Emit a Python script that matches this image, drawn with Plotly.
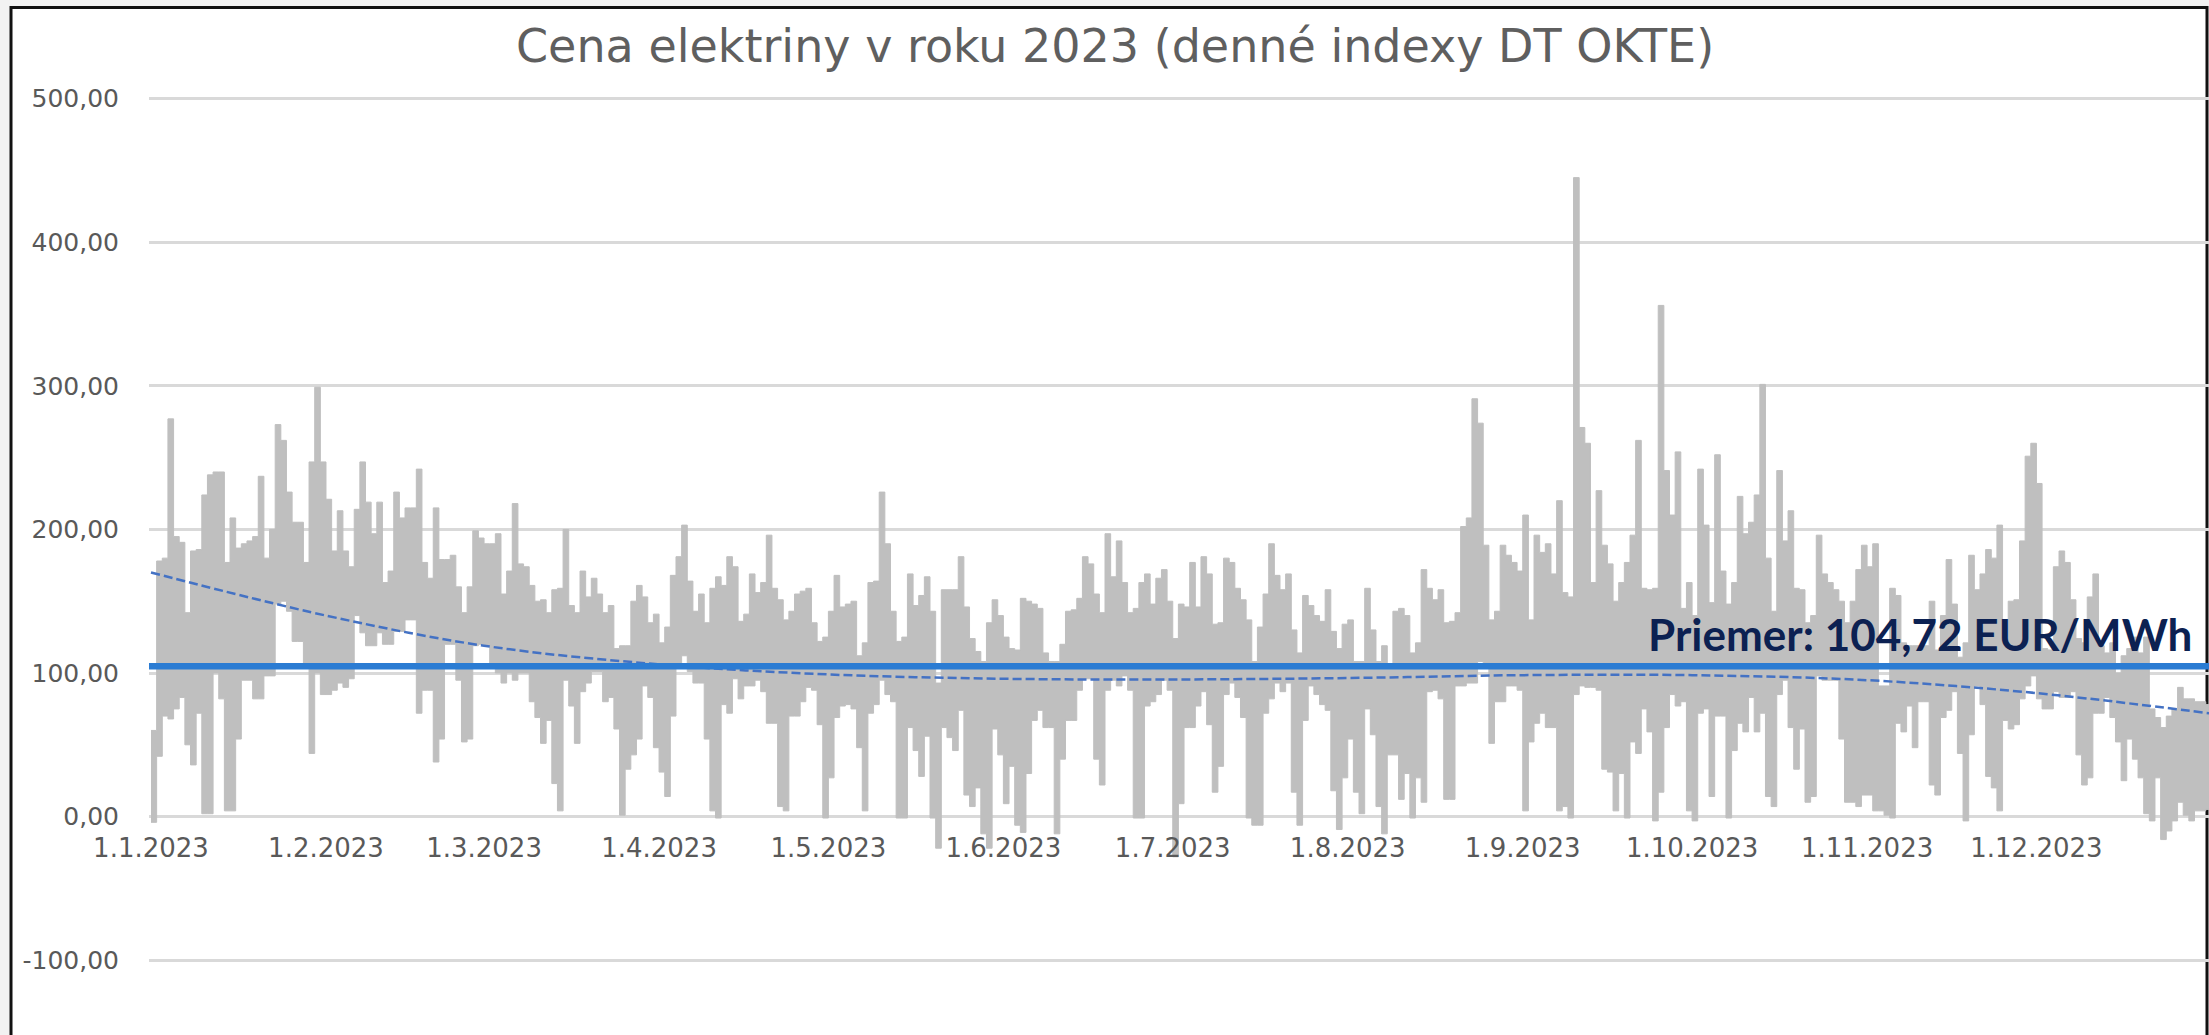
import pandas as pd
import plotly.graph_objects as go

title_text = "Cena elektriny v roku 2023 (denné indexy DT OKTE)"
mean_label = "Priemer: 104,72 EUR/MWh"
mean_price = 104.72

# Daily highs / lows (EUR/MWh), month by month
jan_max = [60, 178, 180, 277, 195, 191, 142, 185, 186, 224, 238, 240, 240, 177, 208, 187,
           190, 192, 195, 237, 180, 200, 273, 262, 226, 205, 205, 177, 247, 299, 247]
jan_min = [-4, 42, 70, 68, 75, 83, 50, 36, 72, 2, 2, 100, 82, 4, 4, 54,
           95, 95, 82, 82, 98, 98, 148, 150, 143, 122, 122, 106, 44, 100, 85]
feb_max = [221, 185, 213, 185, 174, 214, 247, 219, 197, 219, 163, 171, 226, 208, 215, 215,
           242, 177, 166, 215, 179, 179, 182, 160, 142, 160, 199, 194]
feb_min = [85, 88, 93, 90, 96, 140, 128, 119, 119, 128, 120, 120, 129, 129, 137, 137,
           72, 88, 88, 38, 54, 120, 120, 95, 52, 54, 119, 120]
mar_max = [190, 190, 197, 155, 171, 218, 176, 174, 161, 150, 151, 142, 158, 159, 200, 147,
           142, 171, 153, 166, 155, 142, 147, 117, 119, 119, 150, 161, 153, 135, 141]
mar_min = [119, 104, 100, 93, 100, 95, 100, 100, 80, 69, 51, 67, 23, 4, 95, 77,
           51, 87, 93, 101, 101, 80, 83, 61, 1, 33, 43, 54, 91, 83, 48]
apr_max = [121, 132, 168, 181, 203, 164, 143, 155, 135, 159, 167, 161, 181, 174, 136, 141,
           169, 156, 163, 196, 159, 151, 137, 143, 155, 157, 159, 135, 122, 125]
apr_min = [31, 14, 70, 104, 112, 101, 93, 93, 54, 4, -1, 78, 72, 96, 82, 91,
           91, 95, 87, 65, 65, 7, 4, 70, 70, 80, 90, 88, 64, -1]
may_max = [143, 168, 146, 148, 150, 112, 121, 163, 164, 226, 190, 143, 122, 125, 169, 147,
           154, 167, 143, 93, 158, 158, 158, 181, 146, 124, 115, 108, 135, 151, 140]
may_min = [27, 69, 77, 78, 75, 48, 4, 72, 78, 95, 85, 80, -1, -1, 62, 46,
           28, 56, -1, -22, 62, 55, 46, 74, 15, 7, 20, -12, -22, 61, 43]
jun_max = [125, 117, 116, 152, 150, 148, 145, 114, 108, 108, 120, 143, 144, 152, 181, 176,
           155, 142, 197, 167, 192, 163, 142, 145, 163, 169, 148, 166, 172, 150]
jun_min = [9, 35, -6, -11, 30, 67, 74, 62, 62, -12, 40, 67, 67, 88, 96, 96,
           40, 22, 88, 95, 91, 98, 88, -1, -1, 77, 80, 85, 95, 88]
jul_max = [124, 148, 146, 177, 146, 181, 169, 134, 135, 180, 177, 159, 151, 137, 108, 132,
           155, 190, 168, 158, 169, 130, 114, 154, 147, 140, 136, 158, 129, 117, 134]
jul_min = [-28, 9, 62, 62, 77, 87, 64, 17, 35, 85, 93, 83, 69, -1, -6, -6,
           72, 82, 93, 87, 93, 17, -6, 67, 91, 85, 78, 74, 18, -9, 27]
aug_max = [137, 108, 108, 159, 130, 108, 119, 104, 143, 145, 140, 114, 121, 172, 159, 151,
           158, 135, 136, 142, 202, 208, 291, 274, 189, 137, 143, 189, 182, 177, 171]
aug_min = [54, 17, 2, 75, 57, 7, -12, 43, 43, 12, 30, -1, 27, 10, 87, 88,
           82, 12, 12, 91, 91, 93, 93, 108, 104, 51, 80, 80, 91, 91, 88]
sep_max = [210, 137, 196, 184, 190, 169, 220, 156, 153, 445, 271, 260, 163, 227, 189, 176,
           150, 163, 177, 196, 262, 159, 158, 159, 356, 241, 210, 254, 145, 163]
sep_min = [4, 52, 65, 72, 62, 62, 4, 7, -1, 85, 91, 90, 90, 88, 33, 31,
           4, 30, -1, 52, 44, 75, 59, -3, 17, 62, 85, 77, 80, 4]
oct_max = [140, 242, 203, 149, 252, 171, 148, 163, 223, 197, 205, 224, 301, 180, 143, 241,
           192, 213, 159, 158, 135, 140, 196, 169, 163, 158, 150, 135, 150, 172, 189]
oct_min = [-3, 72, 75, 14, 70, 70, -1, 46, 65, 59, 83, 59, 72, 14, 7, 85,
           95, 62, 33, 61, 10, 14, 98, 95, 95, 95, 54, 10, 10, 7, 15]
nov_max = [174, 190, 91, 91, 159, 154, 121, 119, 119, 119, 119, 150, 116, 140, 179, 148,
           111, 121, 182, 158, 169, 186, 180, 203, 121, 150, 151, 192, 251, 260]
nov_min = [15, 4, 4, 1, -1, 65, 59, 77, 48, 80, 80, 22, 15, 69, 74, 87,
           44, -3, 57, 91, 78, 28, 20, 4, 67, 61, 64, 82, 91, 98]
dec_max = [232, 117, 116, 174, 185, 177, 151, 124, 121, 153, 169, 119, 114, 121, 100, 112,
           117, 125, 114, 125, 75, 69, 62, 70, 75, 90, 82, 82, 80, 80, 78]
dec_min = [82, 75, 75, 87, 83, 83, 87, 43, 22, 27, 72, 72, 83, 69, 52, 25,
           54, 40, 27, 2, -3, 27, -16, -10, -3, 10, 1, -3, 4, 4, 5]

daily_max = (jan_max + feb_max + mar_max + apr_max + may_max + jun_max +
             jul_max + aug_max + sep_max + oct_max + nov_max + dec_max)
daily_min = (jan_min + feb_min + mar_min + apr_min + may_min + jun_min +
             jul_min + aug_min + sep_min + oct_min + nov_min + dec_min)

# Polynomial trend line
trend_dates = ["2023-01-01 00:00", "2023-02-01 00:00", "2023-03-01 00:00", "2023-04-01 00:00",
               "2023-05-01 00:00", "2023-06-01 00:00", "2023-07-01 00:00", "2023-08-01 00:00",
               "2023-09-01 00:00", "2023-10-01 00:00", "2023-11-01 00:00", "2023-12-01 00:00",
               "2023-12-31 14:00"]
trend_vals = [170, 140, 119, 106, 99, 96, 95.5, 96.5, 98.5, 98.5, 95, 86, 72]

tick_dates = ["2023-01-01", "2023-02-01", "2023-03-01", "2023-04-01", "2023-05-01",
              "2023-06-01", "2023-07-01", "2023-08-01", "2023-09-01", "2023-10-01",
              "2023-11-01", "2023-12-01"]
tick_labels = ["1.1.2023", "1.2.2023", "1.3.2023", "1.4.2023", "1.5.2023", "1.6.2023",
               "1.7.2023", "1.8.2023", "1.9.2023", "1.10.2023", "1.11.2023", "1.12.2023"]
y_tick_vals = [-100, 0, 100, 200, 300, 400, 500]
y_tick_labels = ["-100,00", "0,00", "100,00", "200,00", "300,00", "400,00", "500,00"]

# each day's hourly trace sweeps its whole low..high range -> one column per day
day_edges = pd.date_range("2023-01-01", periods=len(daily_max) + 1, freq="D")
low_steps = daily_min + daily_min[-1:]
high_steps = daily_max + daily_max[-1:]

W, H = 2209, 1035
ML = 149
PW = W - ML
Y_LO, Y_HI = -152.1, 568.7
GRAY = "#bfbfbf"

fig = go.Figure()
fig.add_trace(go.Scatter(x=day_edges, y=low_steps, mode="lines",
                         line=dict(color=GRAY, width=1, shape="hv"), hoverinfo="skip"))
fig.add_trace(go.Scatter(x=day_edges, y=high_steps, mode="lines", fill="tonexty",
                         fillcolor=GRAY,
                         line=dict(color=GRAY, width=1, shape="hv"), hoverinfo="skip"))
fig.add_trace(go.Scatter(x=trend_dates, y=trend_vals, mode="lines",
                         line=dict(color="#4472c4", width=2.5, dash="9px,4px", shape="spline"),
                         hoverinfo="skip"))

fig.update_layout(
    width=W, height=H,
    margin=dict(l=ML, r=0, t=0, b=0),
    paper_bgcolor="#f2f2f2",
    plot_bgcolor="rgba(0,0,0,0)",
    showlegend=False,
    xaxis=dict(type="date", range=["2022-12-31 15:30", "2023-12-31 13:40"],
               anchor="free", position=(0 - Y_LO) / (Y_HI - Y_LO),
               tickvals=tick_dates, ticktext=tick_labels,
               showgrid=False, zeroline=False, showline=False,
               ticks="outside", ticklen=8, tickcolor="rgba(0,0,0,0)",
               tickfont=dict(family="DejaVu Sans", size=26, color="#595959")),
    yaxis=dict(range=[Y_LO, Y_HI], tickvals=y_tick_vals, ticktext=y_tick_labels,
               showgrid=True, gridcolor="#d9d9d9", gridwidth=2.5,
               zeroline=False, showline=False,
               ticks="outside", ticklen=24, tickcolor="rgba(0,0,0,0)",
               tickfont=dict(family="DejaVu Sans", size=25, color="#595959")),
)

# chart frame
fig.add_shape(type="rect", xref="paper", yref="paper",
              x0=(11 - ML) / PW, x1=(2207 - ML) / PW, y0=-0.02, y1=1 - 7.5 / H,
              fillcolor="white", line=dict(color="#111111", width=3), layer="below")
# average line
fig.add_shape(type="line", xref="paper", yref="y", x0=0, x1=1, y0=mean_price, y1=mean_price,
              line=dict(color="#2b7cd3", width=6.5))

fig.add_annotation(text=title_text, xref="paper", yref="paper",
                   x=(1115 - ML) / PW, y=1 - 46 / H, xanchor="center", yanchor="middle",
                   showarrow=False, font=dict(family="DejaVu Sans", size=46, color="#5f5f5f"))
fig.add_annotation(text=mean_label, xref="paper", yref="y",
                   x=(2194 - ML) / PW, y=127.5, xanchor="right", yanchor="middle",
                   showarrow=False,
                   font=dict(family="Lato", size=44, color="#0c2152", weight="bold"))

fig.write_html("out.html", config={"displayModeBar": False},
               post_script="document.body.style.margin='0';")
